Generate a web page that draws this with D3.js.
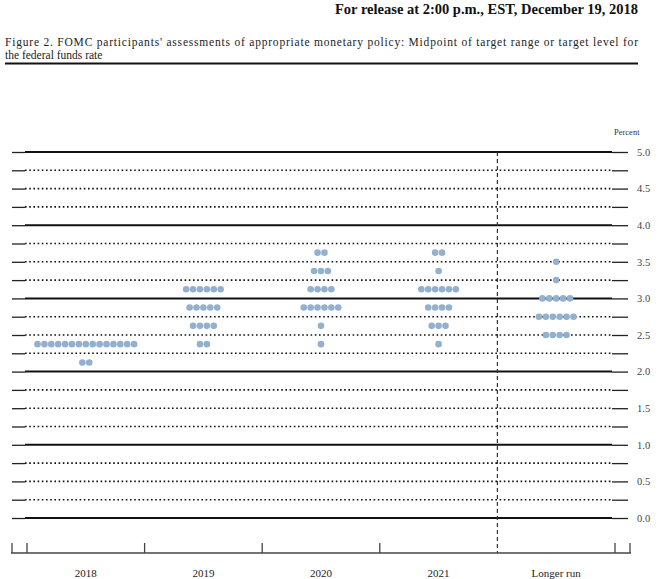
<!DOCTYPE html>
<html><head><meta charset="utf-8">
<script src="https://cdn.jsdelivr.net/npm/d3@7"></script>
<style>body{margin:0;background:#fff}svg{display:block}text{font-family:'Liberation Serif','DejaVu Serif',serif}</style>
</head><body>
<script>
const categories = ["2018", "2019", "2020", "2021", "Longer run"];
// [midpoint rate, number of participants]
const dots2018 = [[2.375, 15], [2.125, 2]];
const dots2019 = [[3.125, 6], [2.875, 5], [2.625, 4], [2.375, 2]];
const dots2020 = [[3.625, 2], [3.375, 3], [3.125, 4], [2.875, 6], [2.625, 1], [2.375, 1]];
const dots2021 = [[3.625, 2], [3.375, 1], [3.125, 6], [2.875, 4], [2.625, 3], [2.375, 1]];
const dotsLonger = [[3.5, 1], [3.25, 1], [3.0, 5], [2.75, 6], [2.5, 4]];
const gridLevels = [0, 0.25, 0.5, 0.75, 1, 1.25, 1.5, 1.75, 2, 2.25, 2.5, 2.75, 3, 3.25, 3.5, 3.75, 4, 4.25, 4.5, 4.75, 5];
const tickLabels = ["0.0", "0.5", "1.0", "1.5", "2.0", "2.5", "3.0", "3.5", "4.0", "4.5", "5.0"];
const headerText = "For release at 2:00 p.m., EST, December 19, 2018";
const titleLines = ["Figure 2. FOMC participants' assessments of appropriate monetary policy: Midpoint of target range or target level for", "the federal funds rate"];

const W = 663, H = 579;
const svg = d3.select("body").append("svg").attr("width", W).attr("height", H);
const serif = "'Liberation Serif', 'DejaVu Serif', serif";

svg.append("text").attr("x", 638).attr("y", 14).attr("text-anchor", "end")
  .style("font-family", serif).attr("font-weight", "bold").attr("font-size", 14.5)
  .attr("fill", "#111").text(headerText);
svg.append("text").attr("x", 5).attr("y", 46).style("font-family", serif).attr("font-size", 11.5)
  .attr("fill", "#222").attr("textLength", 633).attr("lengthAdjust", "spacing").text(titleLines[0]);
svg.append("text").attr("x", 5).attr("y", 59).style("font-family", serif).attr("font-size", 11.5)
  .attr("fill", "#222").text(titleLines[1]);
svg.append("line").attr("x1", 5).attr("x2", 638).attr("y1", 63.5).attr("y2", 63.5)
  .attr("stroke", "#111").attr("stroke-width", 2);

const y = d3.scaleLinear().domain([0, 5]).range([518, 152]);
const x = d3.scaleBand().domain(categories).range([27, 615]);
const plotL = 25, plotR = 612;

// gridlines
const g = svg.append("g");
gridLevels.forEach(v => {
  const solid = Math.abs(v - Math.round(v)) < 1e-9;
  g.append("line").attr("x1", plotL).attr("x2", plotR).attr("y1", y(v)).attr("y2", y(v))
    .attr("stroke", "#111").attr("stroke-width", solid ? 2 : 1.6)
    .attr("stroke-dasharray", solid ? null : "1.6,2.6");
});

// left & right axis ticks
const leftAxis = d3.axisLeft(y).tickValues(gridLevels).tickSize(plotL - 12).tickFormat("");
svg.append("g").attr("transform", `translate(${plotL},0)`).call(leftAxis)
  .call(a => a.select(".domain").remove())
  .call(a => a.selectAll("line").attr("stroke", "#222").attr("stroke-width", 1.3));
const rightAxis = d3.axisRight(y).tickValues(gridLevels).tickSize(628 - plotR)
  .tickPadding(9).tickFormat(d => {
    const i = tickLabels.indexOf(d.toFixed(1));
    return (Math.abs(d * 2 - Math.round(d * 2)) < 1e-9 && i >= 0) ? tickLabels[i] : "";
  });
svg.append("g").attr("transform", `translate(${plotR},0)`).call(rightAxis)
  .attr("font-family", serif)
  .call(a => a.select(".domain").remove())
  .call(a => a.selectAll("line").attr("stroke", "#222").attr("stroke-width", 1.3))
  .call(a => a.selectAll("text").style("font-family", serif).attr("font-size", 10.5).attr("fill", "#444"));
svg.append("text").attr("x", 614).attr("y", 135).style("font-family", serif).attr("font-size", 8.5)
  .attr("fill", "#333").text("Percent");

// vertical dashed separator
const sepX = x("Longer run");
svg.append("line").attr("x1", sepX).attr("x2", sepX).attr("y1", y(5)).attr("y2", 553)
  .attr("stroke", "#333").attr("stroke-width", 1.2).attr("stroke-dasharray", "4,3");

// dots
const series = [dots2018, dots2019, dots2020, dots2021, dotsLonger];
const spacing = 6.9, r = 3.3;
series.forEach((rows, si) => {
  const cx0 = x(categories[si]) + x.bandwidth() / 2;
  rows.forEach(([rate, n]) => {
    for (let i = 0; i < n; i++) {
      svg.append("circle").attr("cx", cx0 + (i - (n - 1) / 2) * spacing).attr("cy", y(rate))
        .attr("r", r).attr("fill", "#93b0cf");
    }
  });
});

// bottom axis
const axY = 553;
svg.append("line").attr("x1", 11).attr("x2", 631).attr("y1", axY).attr("y2", axY)
  .attr("stroke", "#444").attr("stroke-width", 1.5);
const bounds = [12].concat(categories.map(c => x(c)), [x.range()[1], 630]);
bounds.forEach(b => {
  if (b === sepX) return;
  svg.append("line").attr("x1", b).attr("x2", b).attr("y1", axY - 10).attr("y2", axY)
    .attr("stroke", "#444").attr("stroke-width", 1.3);
});
categories.forEach(c => {
  svg.append("text").attr("x", x(c) + x.bandwidth() / 2).attr("y", 577).attr("text-anchor", "middle")
    .style("font-family", serif).attr("font-size", 11).attr("fill", "#222").text(c);
});
</script>
</body></html>
